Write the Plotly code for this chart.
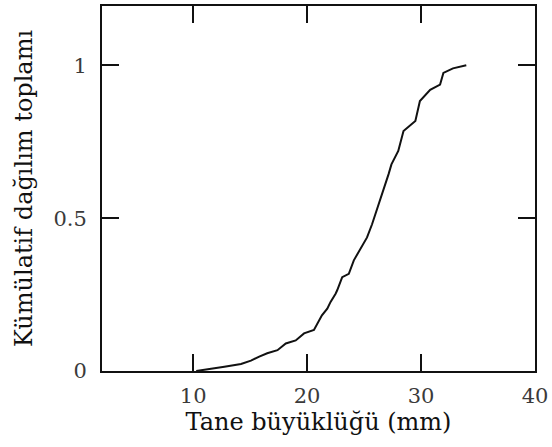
import plotly.graph_objects as go

# Cumulative distribution of grain size
grain_size_mm = [10.27, 11.43, 12.74, 14.2, 15.07, 15.8, 16.5, 17.4, 18.13, 19.0,
                 19.73, 20.6, 20.9, 21.3, 21.77, 22.06, 22.5, 22.64, 23.08, 23.66,
                 24.1, 24.8, 25.26, 25.7, 26.3, 26.7, 27.15, 27.4, 27.7, 28.0,
                 28.46, 29.5, 29.9, 30.8, 31.67, 31.96, 32.8, 33.97]
cumulative = [0.0, 0.006, 0.014, 0.023, 0.034, 0.047, 0.058, 0.068, 0.09, 0.10,
              0.123, 0.134, 0.155, 0.182, 0.204, 0.226, 0.253, 0.264, 0.307, 0.318,
              0.362, 0.405, 0.437, 0.48, 0.546, 0.59, 0.644, 0.676, 0.698, 0.72,
              0.785, 0.818, 0.883, 0.92, 0.937, 0.975, 0.99, 1.0]

x_ticks = [10, 20, 30, 40]
y_ticks = [0, 0.5, 1]
y_tick_text = ["0", "0.5", "1"]

fig = go.Figure()
fig.add_trace(go.Scatter(
    x=grain_size_mm, y=cumulative, mode="lines",
    line=dict(color="#111111", width=2),
    showlegend=False,
))

serif = "DejaVu Serif"
axis_common = dict(
    showline=True, linecolor="#111111", linewidth=2, mirror="ticks",
    ticks="inside", ticklen=17, tickwidth=2, tickcolor="#111111",
    showgrid=False, zeroline=False,
    tickfont=dict(family=serif, size=21, color="#3a3a3a"),
)

fig.update_xaxes(
    range=[2, 40], tickvals=x_ticks, ticktext=[str(v) for v in x_ticks],
    title=dict(text="Tane büyüklüğü (mm)", font=dict(family=serif, size=24, color="#111111"), standoff=2),
    ticklabelstandoff=5,
    **axis_common,
)
fig.update_yaxes(
    range=[0, 1.194], tickvals=y_ticks, ticktext=y_tick_text,
    title=dict(text="Kümülatif dağılım toplamı", font=dict(family=serif, size=24, color="#111111"), standoff=14),
    ticklabelstandoff=9,
    **axis_common,
)

fig.update_layout(
    width=552, height=447,
    margin=dict(l=102, r=15, t=4, b=76),
    paper_bgcolor="white", plot_bgcolor="white",
    font=dict(family=serif),
)

fig.write_html("out.html")
